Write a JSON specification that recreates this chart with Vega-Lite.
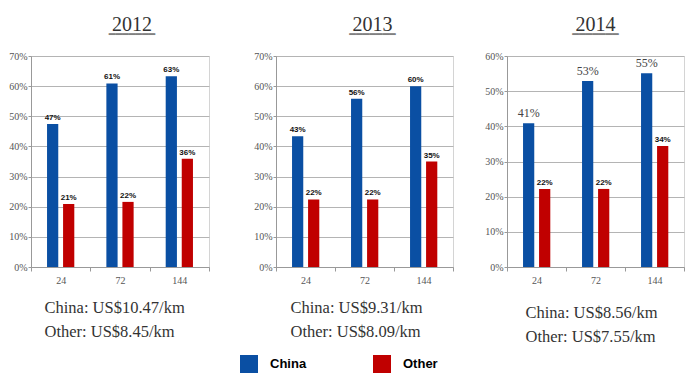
{
  "$schema": "https://vega.github.io/schema/vega-lite/v6.json",
  "padding": {"left": 8, "top": 14, "right": 5, "bottom": 0},
  "background": "white",
  "datasets": {
    "share": [
      {"year": 2012, "size": "24", "series": "China", "value": 0.474},
      {"year": 2012, "size": "24", "series": "Other", "value": 0.209},
      {"year": 2012, "size": "72", "series": "China", "value": 0.609},
      {"year": 2012, "size": "72", "series": "Other", "value": 0.216},
      {"year": 2012, "size": "144", "series": "China", "value": 0.633},
      {"year": 2012, "size": "144", "series": "Other", "value": 0.359},
      {"year": 2013, "size": "24", "series": "China", "value": 0.434},
      {"year": 2013, "size": "24", "series": "Other", "value": 0.224},
      {"year": 2013, "size": "72", "series": "China", "value": 0.558},
      {"year": 2013, "size": "72", "series": "Other", "value": 0.224},
      {"year": 2013, "size": "144", "series": "China", "value": 0.600},
      {"year": 2013, "size": "144", "series": "Other", "value": 0.350},
      {"year": 2014, "size": "24", "series": "China", "value": 0.409},
      {"year": 2014, "size": "24", "series": "Other", "value": 0.222},
      {"year": 2014, "size": "72", "series": "China", "value": 0.529},
      {"year": 2014, "size": "72", "series": "Other", "value": 0.222},
      {"year": 2014, "size": "144", "series": "China", "value": 0.551},
      {"year": 2014, "size": "144", "series": "Other", "value": 0.344}
    ]
  },
  "data": {"name": "share"},
  "spacing": 43,
  "hconcat": [
    {
      "width": 178, "height": 211,
      "title": {"text": "2012", "subtitle": "━━━━━━━", "dx": 12, "offset": 11},
      "transform": [{"filter": "datum.year == 2012"}],
      "encoding": {
        "x": {"field": "size", "type": "ordinal", "sort": ["24", "72", "144"], "scale": {"paddingInner": 0, "paddingOuter": 0},
              "axis": {"title": ["China: US$10.47/km", "Other: US$8.45/km"], "titleX": 13, "titleY": 45}},
        "xOffset": {"field": "series", "type": "nominal", "scale": {"paddingInner": 0.3, "paddingOuter": 1.43}},
        "y": {"field": "value", "type": "quantitative", "scale": {"domain": [0, 0.7]},
              "axis": {"title": null, "format": ".0%", "values": [0, 0.1, 0.2, 0.3, 0.4, 0.5, 0.6, 0.7]}}
      },
      "layer": [
        {"mark": {"type": "bar"}, "encoding": {"color": {"field": "series", "type": "nominal", "scale": {"domain": ["China", "Other"], "range": ["#0a4fa3", "#c00000"]},
          "legend": {"title": null, "orient": "none", "legendX": 209, "legendY": 299, "direction": "horizontal",
            "encode": {"symbols": {"update": {"fill": {"condition": {"test": "datum.value === 'China'", "value": "#2b2d7a"}, "value": "#c00000"}}}}}}}},
        {"mark": {"type": "text", "baseline": "bottom", "dy": -2, "fontSize": 8, "fontWeight": "bold", "font": "Liberation Sans Narrow, Liberation Sans", "color": "#111"},
         "encoding": {"text": {"field": "value", "type": "quantitative", "format": ".0%"}}}
      ]
    },
    {
      "spacing": 30,
      "hconcat": [
        {
          "width": 177, "height": 211,
          "title": {"text": "2013", "subtitle": "━━━━━━━", "dx": 8, "offset": 11},
          "transform": [{"filter": "datum.year == 2013"}],
          "encoding": {
            "x": {"field": "size", "type": "ordinal", "sort": ["24", "72", "144"], "scale": {"paddingInner": 0, "paddingOuter": 0},
                  "axis": {"title": ["China: US$9.31/km", "Other: US$8.09/km"], "titleX": 14, "titleY": 45}},
            "xOffset": {"field": "series", "type": "nominal", "scale": {"paddingInner": 0.3, "paddingOuter": 1.43}},
            "y": {"field": "value", "type": "quantitative", "scale": {"domain": [0, 0.7]},
                  "axis": {"title": null, "format": ".0%", "values": [0, 0.1, 0.2, 0.3, 0.4, 0.5, 0.6, 0.7]}}
          },
          "layer": [
            {"mark": {"type": "bar"}, "encoding": {"color": {"field": "series", "type": "nominal", "scale": {"domain": ["China", "Other"], "range": ["#0a4fa3", "#c00000"]}}}},
            {"mark": {"type": "text", "baseline": "bottom", "dy": -2, "fontSize": 8, "fontWeight": "bold", "font": "Liberation Sans Narrow, Liberation Sans", "color": "#111"},
             "encoding": {"text": {"field": "value", "type": "quantitative", "format": ".0%"}}}
          ]
        },
        {
          "width": 177, "height": 211,
          "title": {"text": "2014", "subtitle": "━━━━━━━", "dx": 0, "offset": 11},
          "transform": [{"filter": "datum.year == 2014"}],
          "encoding": {
            "x": {"field": "size", "type": "ordinal", "sort": ["24", "72", "144"], "scale": {"paddingInner": 0, "paddingOuter": 0},
                  "axis": {"title": ["China: US$8.56/km", "Other: US$7.55/km"], "titleX": 18, "titleY": 50}},
            "xOffset": {"field": "series", "type": "nominal", "scale": {"paddingInner": 0.3, "paddingOuter": 1.43}},
            "y": {"field": "value", "type": "quantitative", "scale": {"domain": [0, 0.6]},
                  "axis": {"title": null, "format": ".0%", "values": [0, 0.1, 0.2, 0.3, 0.4, 0.5, 0.6]}}
          },
          "layer": [
            {"mark": {"type": "bar"}, "encoding": {"color": {"field": "series", "type": "nominal", "scale": {"domain": ["China", "Other"], "range": ["#0a4fa3", "#c00000"]}}}},
            {"transform": [{"filter": "datum.series == 'Other'"}],
             "mark": {"type": "text", "baseline": "bottom", "dy": -2, "fontSize": 8, "fontWeight": "bold", "font": "Liberation Sans Narrow, Liberation Sans", "color": "#111"},
             "encoding": {"text": {"field": "value", "type": "quantitative", "format": ".0%"}}},
            {"transform": [{"filter": "datum.series == 'China'"}],
             "mark": {"type": "text", "baseline": "bottom", "dy": -3, "fontSize": 12, "font": "Liberation Serif", "color": "#444"},
             "encoding": {"text": {"field": "value", "type": "quantitative", "format": ".0%"}}}
          ]
        }
      ]
    }
  ],
  "resolve": {"scale": {"y": "independent"}},
  "config": {
    "view": {"stroke": "#d4d4d4", "strokeWidth": 1},
    "title": {"font": "Liberation Serif", "fontSize": 20, "fontWeight": "normal", "color": "#333", "anchor": "middle",
              "subtitleFont": "DejaVu Sans", "subtitleFontSize": 11, "subtitleColor": "#808080", "subtitlePadding": -6},
    "axis": {"labelFont": "Liberation Serif", "labelFontSize": 10, "labelColor": "#555", "domainColor": "#999", "tickColor": "#999",
             "gridColor": "#b4b4b4", "titleFont": "Liberation Serif", "titleFontSize": 16.5, "titleFontWeight": "normal",
             "titleColor": "#333", "titleLineHeight": 24, "titleAlign": "left", "titleBaseline": "alphabetic"},
    "axisY": {"grid": true, "tickSize": 3, "labelPadding": 1, "domain": true},
    "axisX": {"grid": false, "labelAngle": 0, "tickBand": "extent", "tickSize": 4, "labelPadding": 4},
    "legend": {"symbolType": "square", "symbolSize": 324,
               "symbolStrokeWidth": 0, "labelFont": "Liberation Sans", "labelFontSize": 13, "labelFontWeight": "bold", "labelColor": "#000",
               "labelOffset": 12, "columnPadding": 66, "padding": 0}
  }
}
